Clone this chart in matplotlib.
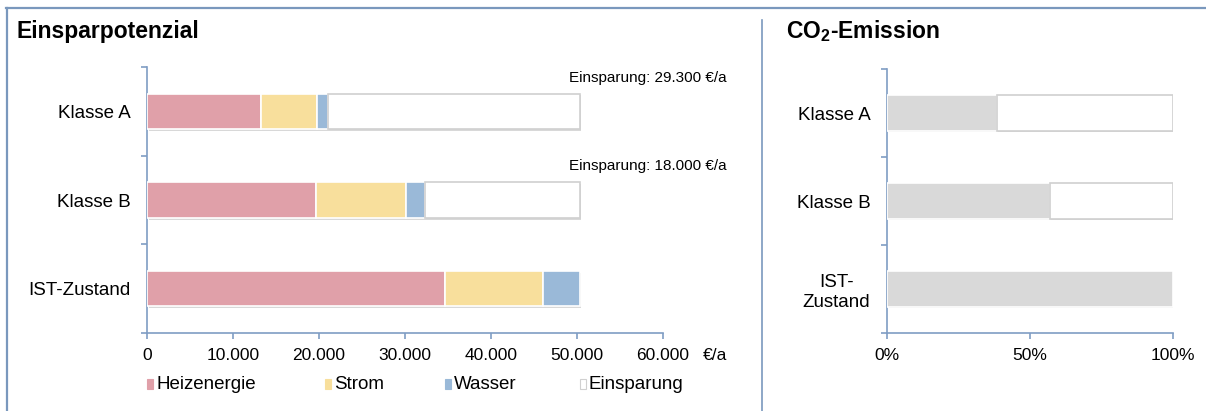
import matplotlib
matplotlib.use("Agg")
import matplotlib.pyplot as plt
import matplotlib.patheffects as pe
from matplotlib.lines import Line2D
from matplotlib.patches import Rectangle
from matplotlib.ticker import FuncFormatter

plt.rcParams['font.family'] = ['Liberation Sans', 'DejaVu Sans']
plt.rcParams['mathtext.fontset'] = 'custom'
plt.rcParams['mathtext.rm'] = 'Liberation Sans'
plt.rcParams['mathtext.bf'] = 'Liberation Sans:bold'

# data (bottom to top)
categories = ['IST-Zustand', 'Klasse B', 'Klasse A']
co2_labels = ['IST-\nZustand', 'Klasse B', 'Klasse A']
heizenergie = [34700, 19600, 13200]
strom = [11300, 10500, 6600]
wasser = [4300, 2200, 1200]
einsparung = [0, 18000, 29300]
co2_anteil = [100, 57, 38.5]
series_names = ['Heizenergie', 'Strom', 'Wasser', 'Einsparung']

W, H = 1206, 411
fig = plt.figure(figsize=(W / 100, H / 100), dpi=100)

axis_col = '#7F9DC4'
frame_col = '#7A98BD'
colors = ['#E0A0A9', '#F8DF9C', '#9AB9D8', '#FFFFFF']
edge_light = '#D0D0D0'
shadow = [pe.SimplePatchShadow(offset=(1.1, -1.3), shadow_rgbFace=(0.5, 0.5, 0.5), alpha=0.3),
          pe.Normal()]


def px_axes(x0, x1, y0, y1):
    return fig.add_axes([x0 / W, 1 - y1 / H, (x1 - x0) / W, (y1 - y0) / H])


def style_axes(ax):
    for s in ['top', 'right']:
        ax.spines[s].set_visible(False)
    for s in ['left', 'bottom']:
        ax.spines[s].set_color(axis_col)
        ax.spines[s].set_linewidth(1.2)
    ax.tick_params(axis='both', colors=axis_col, length=4, width=1.2, direction='out')
    ax.tick_params(axis='x', labelcolor='black', labelsize=12.5, pad=7)
    ax.tick_params(axis='y', labelcolor='black', labelsize=13.5, pad=12, which='minor', length=0)
    ax.set_ylim(-0.5, len(categories) - 0.5)
    ax.set_yticks([i - 0.5 for i in range(len(categories) + 1)])
    ax.set_yticklabels([])
    ax.set_yticks(range(len(categories)), minor=True)


bar_h = 0.4
ypos = list(range(len(categories)))

# left chart
ax1 = px_axes(147, 663, 67, 333)
style_axes(ax1)
left = [0] * len(categories)
segments = [heizenergie, strom, wasser, einsparung]
for vals, col, name in zip(segments, colors, series_names):
    edge = edge_light if name == 'Einsparung' else 'white'
    bars = ax1.barh(ypos, vals, left=left, height=bar_h, color=col, edgecolor=edge,
                    linewidth=1.2, zorder=3)
    for b, v in zip(bars, vals):
        if v > 0:
            b.set_path_effects(shadow)
        else:
            b.set_visible(False)
    left = [l + v for l, v in zip(left, vals)]
ax1.set_xlim(0, 60000)
ax1.set_xticks(range(0, 60001, 10000))
ax1.xaxis.set_major_formatter(FuncFormatter(lambda v, _: f"{v:,.0f}".replace(',', '.')))
ax1.set_yticklabels(categories, minor=True)
ax1.text(1.078, -0.085, '€/a', transform=ax1.transAxes, fontsize=12.5, va='center', ha='left')

for y, v in zip(ypos, einsparung):
    if v > 0:
        ax1.text(1.124, y + 0.38, f"Einsparung: {v:,.0f}".replace(',', '.') + " €/a",
                 transform=ax1.get_yaxis_transform(), ha='right', va='center',
                 fontsize=11, clip_on=False)

# legend, placed entry by entry
legend_x = [147, 325, 445, 580]
legend_y = 384
for x, c, n in zip(legend_x, colors, series_names):
    ec = edge_light if n == 'Einsparung' else c
    fig.add_artist(Rectangle((x / W, 1 - (legend_y + 5) / H), 6 / W, 10 / H,
                             transform=fig.transFigure, facecolor=c, edgecolor=ec, lw=0.8))
    fig.text((x + 9) / W, 1 - legend_y / H, n, fontsize=13.5, va='center', ha='left')

# right chart
ax2 = px_axes(887, 1173, 69, 333)
style_axes(ax2)
rest = [100 - v for v in co2_anteil]
b1 = ax2.barh(ypos, co2_anteil, height=bar_h, color='#D9D9D9', edgecolor='white',
              linewidth=1.2, zorder=3)
b2 = ax2.barh(ypos, rest, left=co2_anteil, height=bar_h, color='white', edgecolor=edge_light,
              linewidth=1.2, zorder=3)
for b in list(b1) + list(b2):
    if b.get_width() > 0:
        b.set_path_effects(shadow)
    else:
        b.set_visible(False)
ax2.set_xlim(0, 100)
ax2.set_xticks([0, 50, 100])
ax2.xaxis.set_major_formatter(FuncFormatter(lambda v, _: f"{v:.0f}%"))
ax2.set_yticklabels(co2_labels, minor=True, multialignment='center')

# titles
fig.text(17 / W, 1 - 38 / H, 'Einsparpotenzial', fontsize=16.5, fontweight='bold', va='baseline')
fig.text(786 / W, 1 - 38 / H, r'CO$_\mathbf{2}$-Emission', fontsize=16.5, fontweight='bold',
         va='baseline')

# frame lines
fig.add_artist(Line2D([6 / W, 1], [1 - 8.5 / H, 1 - 8.5 / H], transform=fig.transFigure,
                      color=frame_col, lw=1.6))
fig.add_artist(Line2D([6.5 / W, 6.5 / W], [0, 1 - 8.5 / H], transform=fig.transFigure,
                      color=frame_col, lw=1.6))
fig.add_artist(Line2D([762 / W, 762 / W], [0, 1 - 20 / H], transform=fig.transFigure,
                      color=frame_col, lw=1.2))

fig.savefig('out.png', dpi=100)
